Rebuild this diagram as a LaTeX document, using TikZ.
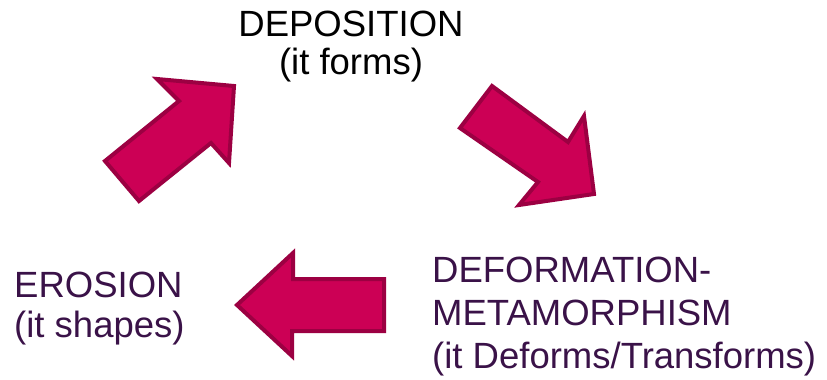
\documentclass[tikz,border=0pt]{standalone}
\usepackage{fontspec}
\setmainfont{Liberation Sans}
\definecolor{arrowfill}{HTML}{CC0055}
\definecolor{arrowline}{HTML}{9C0042}
\definecolor{plum}{HTML}{3A1248}
\begin{document}
\begin{tikzpicture}[x=1pt,y=-1pt,
  bigarrow/.style={fill=arrowfill,draw=arrowline,line width=4pt,line join=miter},
  label/.style={inner sep=0pt,font=\fontsize{36.5}{#1}\selectfont}]
\useasboundingbox (0,0) rectangle (827,380);

% stage labels (anchored on the baseline of their last line)
\node[label=38,anchor=base,align=center] (dep) at (351,74) {DEPOSITION\\(it forms)};
\node[label=40,anchor=base west,align=left,text=plum] (ero) at (14,337) {EROSION\\(it shapes)};
\node[label=43,anchor=base west,align=left,text=plum] (def) at (432,368) {DEFORMATION-\\METAMORPHISM\\(it Deforms/Transforms)};

% block arrows of the cycle
\draw[bigarrow] (105,161) -- (139,201) -- (211,143) -- (229,163) -- (234,86) -- (157,79) -- (179,101) -- cycle;
\draw[bigarrow] (460,128) -- (492,86) -- (568,142) -- (584,116) -- (594,194) -- (519,205) -- (538,182) -- cycle;
\draw[bigarrow] (384,279) -- (384,331) -- (292,331) -- (292,356) -- (237,305) -- (293,253) -- (293,279) -- cycle;
\end{tikzpicture}
\end{document}
